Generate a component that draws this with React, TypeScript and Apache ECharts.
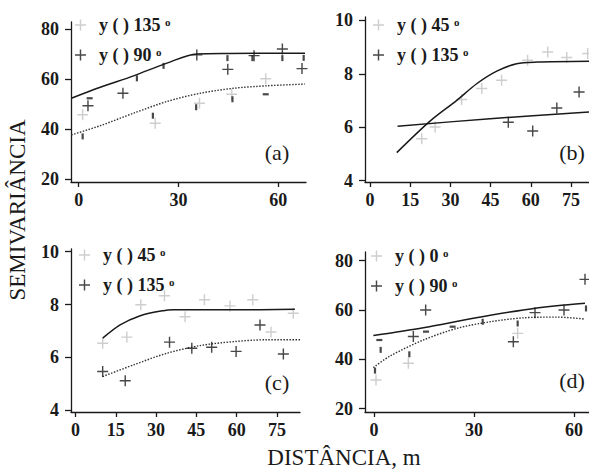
import React, { useEffect, useRef } from "react";
import * as echarts from "echarts";

// ---------- data ----------
// Panel (a): distance (m), semivariance
const A_X_TICKS = [0, 30, 60];
const A_Y_TICKS = [20, 40, 60, 80];
const A_GRAY = [[1.2, 45.8], [23.0, 42.4], [36.3, 50.4], [46.0, 54.0], [56.2, 60.2]];
const A_BLACK = [[2.8, 49.4], [13.3, 54.4], [35.5, 69.8], [44.8, 64.0], [52.7, 69.5], [61.2, 72.2], [67.1, 64.3]];
const A_DASH_V = [[1.2, 37.1], [17.5, 60.4], [22.3, 45.4], [25.5, 65.4], [35.3, 48.8], [44.7, 68.5], [46.2, 52.0], [52.2, 68.5], [61.2, 68.5], [67.6, 68.6]];
const A_DASH_H = [[3.3, 52.4], [56.2, 54.0]];
const A_SOLID = [[-2.2, 52.4], [6.5, 56.8], [16.5, 61.4], [26.5, 66.5], [35.5, 70.2], [45, 70.4], [68, 70.5]];
const A_DOTTED = [[-2.2, 37.7], [6.5, 41.4], [16.5, 46.4], [26.5, 51.1], [36.5, 54.4], [46.5, 56.4], [56.5, 57.4], [68, 58.1]];
const A_LEGEND = ["135", "90"];

// Panel (b)
const B_X_TICKS = [0, 15, 30, 45, 60, 75];
const B_Y_TICKS = [4, 6, 8, 10];
const B_GRAY = [[19.3, 5.57], [24.3, 6.01], [34.2, 7.04], [41.7, 7.45], [49.1, 7.76], [58.8, 8.51], [66.3, 8.82], [73.4, 8.61], [81.2, 8.76]];
const B_BLACK = [[51.6, 6.19], [60.7, 5.86], [69.7, 6.72], [78.0, 7.32]];
const B_SOLID1 = [[10.0, 5.05], [22.4, 6.23], [32.4, 7.01], [39.8, 7.63], [47.3, 8.1], [54.7, 8.38], [62.2, 8.44], [81.7, 8.47]];
const B_SOLID2 = [[10.3, 6.04], [44.8, 6.32], [81.7, 6.57]];
const B_LEGEND = ["45", "135"];

// Panel (c)
const C_X_TICKS = [0, 15, 30, 45, 60, 75];
const C_Y_TICKS = [4, 6, 8, 10];
const C_GRAY = [[10.1, 6.54], [19.1, 6.77], [24.3, 7.99], [33.1, 8.33], [40.8, 7.54], [48.0, 8.18], [57.5, 7.95], [66.0, 8.18], [72.8, 6.96], [81.1, 7.67]];
const C_BLACK = [[10.1, 5.47], [18.5, 5.12], [35.0, 6.58], [43.3, 6.35], [50.7, 6.39], [59.8, 6.23], [68.7, 7.23], [77.4, 6.13]];
const C_SOLID = [[10.1, 6.73], [16.6, 7.23], [24.1, 7.58], [32.7, 7.77], [36.5, 7.8], [58.8, 7.8], [81.7, 7.82]];
const C_DOTTED = [[10.1, 5.28], [21.6, 5.72], [34.0, 6.16], [46.4, 6.45], [58.8, 6.6], [71.2, 6.67], [83.6, 6.67]];
const C_LEGEND = ["45", "135"];

// Panel (d)
const D_X_TICKS = [0, 30, 60];
const D_Y_TICKS = [20, 40, 60, 80];
const D_GRAY = [[0.6, 31.6], [10.3, 38.4], [43.1, 50.5]];
const D_BLACK = [[11.8, 49.2], [15.5, 60.0], [41.8, 47.1], [48.3, 58.9], [57.0, 60.0], [63.3, 72.4]];
const D_DASH_V = [[0.3, 35.4], [2.0, 43.8], [10.6, 42.0], [32.6, 55.2], [43.1, 54.5], [63.6, 60.6]];
const D_DASH_H = [[1.6, 47.8], [15.6, 51.2], [23.6, 53.2]];
const D_SOLID = [[-0.2, 49.6], [14.8, 52.8], [29.8, 56.6], [44.8, 60.0], [54.8, 61.7], [63.3, 62.7]];
const D_DOTTED = [[-0.2, 36.6], [4.8, 41.3], [14.8, 47.8], [24.8, 52.5], [34.8, 55.2], [44.8, 56.8], [54.8, 57.1], [63.3, 56.3]];
const D_LEGEND = ["0", "90"];

const Y_TITLE = "SEMIVARIÂNCIA";
const X_TITLE = "DISTÂNCIA, m";

// ---------- styling ----------
const FONT = "'Liberation Serif', 'Times New Roman', serif";
const GRAY = "#c2c2c2";
const BLACK = "#1a1a1a";
const PLUS = "path://M4.35,0h1.3v4.35h4.35v1.3h-4.35v4.35h-1.3v-4.35h-4.35v-1.3h4.35z";

type Panel = {
  key: string;
  grid: { left: number; top: number; width: number; height: number };
  x: [number, number];
  y: [number, number];
  xTicks: number[];
  yTicks: number[];
  gray: number[][];
  black: number[][];
  dashV: number[][];
  dashH: number[][];
  lines: { data: number[][]; dotted: boolean }[];
  legend: string[];
  legendPos: { left: number; top: number };
  labelPos: [number, number];
};

const PANELS: Panel[] = [
  {
    key: "a",
    grid: { left: 71, top: 22, width: 235, height: 160 },
    x: [-2.3, 68.3], y: [18.8, 83.0], xTicks: A_X_TICKS, yTicks: A_Y_TICKS,
    gray: A_GRAY, black: A_BLACK, dashV: A_DASH_V, dashH: A_DASH_H,
    lines: [{ data: A_SOLID, dotted: false }, { data: A_DOTTED, dotted: true }],
    legend: A_LEGEND, legendPos: { left: 70, top: 11 }, labelPos: [277, 152],
  },
  {
    key: "b",
    grid: { left: 365, top: 17, width: 224, height: 165 },
    x: [-1.85, 81.7], y: [3.95, 10.13], xTicks: B_X_TICKS, yTicks: B_Y_TICKS,
    gray: B_GRAY, black: B_BLACK, dashV: [], dashH: [],
    lines: [{ data: B_SOLID1, dotted: false }, { data: B_SOLID2, dotted: false }],
    legend: B_LEGEND, legendPos: { left: 368, top: 11 }, labelPos: [572, 152],
  },
  {
    key: "c",
    grid: { left: 71, top: 249, width: 229, height: 163 },
    x: [-1.7, 83.6], y: [3.94, 10.1], xTicks: C_X_TICKS, yTicks: C_Y_TICKS,
    gray: C_GRAY, black: C_BLACK, dashV: [], dashH: [],
    lines: [{ data: C_SOLID, dotted: false }, { data: C_DOTTED, dotted: true }],
    legend: C_LEGEND, legendPos: { left: 74, top: 241 }, labelPos: [277, 382],
  },
  {
    key: "d",
    grid: { left: 365, top: 252, width: 224, height: 160 },
    x: [-2.7, 64.5], y: [18.6, 83.5], xTicks: D_X_TICKS, yTicks: D_Y_TICKS,
    gray: D_GRAY, black: D_BLACK, dashV: D_DASH_V, dashH: D_DASH_H,
    lines: [{ data: D_SOLID, dotted: false }, { data: D_DOTTED, dotted: true }],
    legend: D_LEGEND, legendPos: { left: 366, top: 242 }, labelPos: [572, 380],
  },
];

function buildOption() {
  const axisLine = { show: true, onZero: false, lineStyle: { color: BLACK, width: 1.3 } };
  const tickLabel = { fontFamily: FONT, fontSize: 18, fontWeight: "bold" as const, color: BLACK };
  const grid: any[] = [];
  const xAxis: any[] = [];
  const yAxis: any[] = [];
  const series: any[] = [];
  const legend: any[] = [];
  const graphic: any[] = [];

  PANELS.forEach((p, i) => {
    grid.push({ ...p.grid, containLabel: false });
    xAxis.push({
      type: "value", gridIndex: i, min: p.x[0], max: p.x[1],
      axisLine, splitLine: { show: false },
      axisTick: { show: true, length: 5, customValues: p.xTicks, lineStyle: { color: BLACK, width: 1.3 } },
      axisLabel: { ...tickLabel, margin: 9, customValues: p.xTicks },
    });
    yAxis.push({
      type: "value", gridIndex: i, min: p.y[0], max: p.y[1],
      axisLine, splitLine: { show: false },
      axisTick: { show: true, length: 6, customValues: p.yTicks, lineStyle: { color: BLACK, width: 1.3 } },
      axisLabel: { ...tickLabel, margin: 12, customValues: p.yTicks },
    });
    const grayName = `${p.key}:${p.legend[0]}`;
    const blackName = `${p.key}:${p.legend[1]}`;
    p.lines.forEach((l) => {
      series.push({
        type: "line", xAxisIndex: i, yAxisIndex: i, data: l.data, symbol: "none",
        smooth: 0.3, silent: true, z: 3,
        lineStyle: l.dotted
          ? { color: "#333", width: 1.4, type: [1.5, 1.5] }
          : { color: BLACK, width: 1.5 },
      });
    });
    series.push({
      type: "scatter", name: grayName, xAxisIndex: i, yAxisIndex: i, data: p.gray,
      symbol: PLUS, symbolSize: 11, itemStyle: { color: GRAY }, z: 2,
    });
    series.push({
      type: "scatter", name: blackName, xAxisIndex: i, yAxisIndex: i, data: p.black,
      symbol: PLUS, symbolSize: 11, itemStyle: { color: BLACK }, z: 4,
    });
    if (p.dashV.length) {
      series.push({
        type: "scatter", xAxisIndex: i, yAxisIndex: i, data: p.dashV,
        symbol: "rect", symbolSize: [2.2, 6], itemStyle: { color: BLACK }, z: 4,
      });
    }
    if (p.dashH.length) {
      series.push({
        type: "scatter", xAxisIndex: i, yAxisIndex: i, data: p.dashH,
        symbol: "rect", symbolSize: [6, 2.2], itemStyle: { color: BLACK }, z: 4,
      });
    }
    legend.push({
      ...p.legendPos, orient: "vertical", selectedMode: false,
      data: [grayName, blackName], icon: PLUS, itemWidth: 27, itemHeight: 11, itemGap: 12,
      formatter: (name: string) => `y ( ) ${name.split(":")[1]} {s|o}`,
      textStyle: {
        fontFamily: FONT, fontSize: 18, fontWeight: "bold", color: BLACK, lineHeight: 18,
        rich: { s: { fontFamily: FONT, fontSize: 11, fontWeight: "bold", color: BLACK, verticalAlign: "top", lineHeight: 11 } },
      },
    });
    graphic.push({
      type: "text", x: p.labelPos[0], y: p.labelPos[1],
      style: { text: `(${p.key})`, fontFamily: FONT, fontSize: 22, fill: BLACK, align: "center", verticalAlign: "middle" },
    });
  });

  graphic.push({
    type: "text", x: 17, y: 210, rotation: Math.PI / 2,
    style: { text: Y_TITLE, fontFamily: FONT, fontSize: 23, fill: BLACK, align: "center", verticalAlign: "middle" },
  });
  graphic.push({
    type: "text", x: 344, y: 457,
    style: { text: X_TITLE, fontFamily: FONT, fontSize: 23, fill: BLACK, align: "center", verticalAlign: "middle" },
  });

  return { animation: false, backgroundColor: "#fff", grid, xAxis, yAxis, series, legend, graphic };
}

export default function App() {
  const ref = useRef<HTMLDivElement>(null);
  useEffect(() => {
    document.body.style.margin = "0";
    const chart = echarts.init(ref.current!, null, { renderer: "svg" });
    chart.setOption(buildOption());
    return () => chart.dispose();
  }, []);
  return <div ref={ref} style={{ width: 589, height: 475, position: "absolute", left: 0, top: 0 }} />;
}
